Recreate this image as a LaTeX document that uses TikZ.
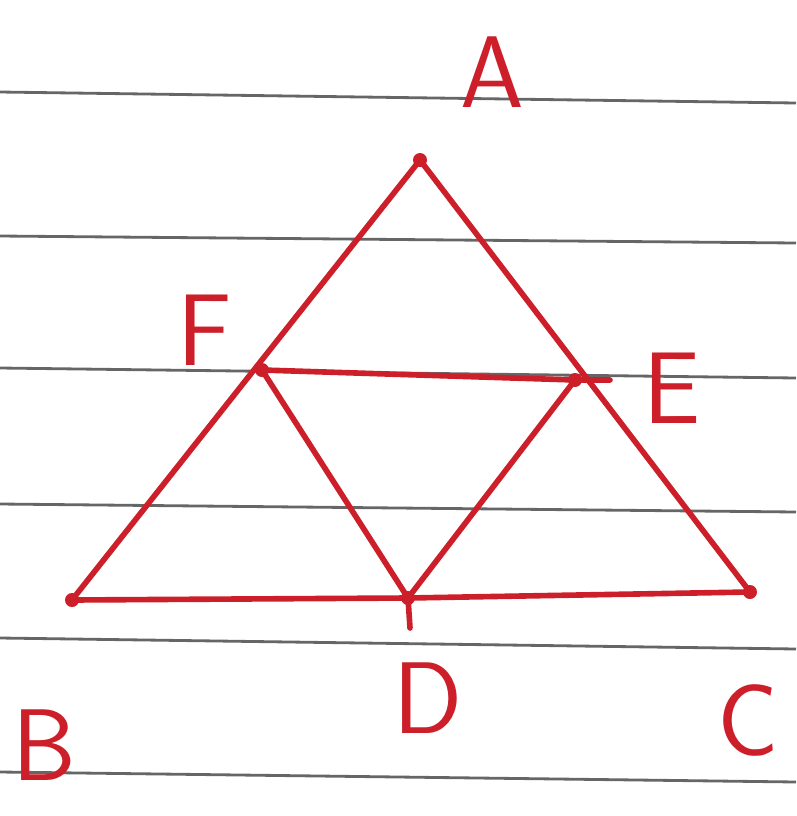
\documentclass[tikz,border=0pt]{standalone}
\usepackage{tikz}
\definecolor{inkred}{rgb}{0.80,0.12,0.16}
\definecolor{ruled}{rgb}{0.40,0.40,0.40}
\tikzset{
  side/.style={inkred, line width=3.2pt, line cap=round},
  rule/.style={ruled, line width=1.6pt},
  lbl/.style={inkred, font=\sffamily\fontsize{58}{58}\selectfont}
}
\begin{document}
\begin{tikzpicture}[x=0.02cm, y=-0.02cm]
  \useasboundingbox (0,0) rectangle (796,816);
  % ruled paper
  \draw[rule] (0,92)--(796,103);
  \draw[rule] (0,236)--(796,243);
  \draw[rule] (0,368)--(796,378);
  \draw[rule] (0,504)--(796,512);
  \draw[rule] (0,638)--(796,649);
  \draw[rule] (0,772)--(796,782);
  % points
  \coordinate (A) at (420,160);
  \coordinate (B) at (72,600);
  \coordinate (C) at (750,592);
  \coordinate (D) at (408,598);
  \coordinate (E) at (575,380);
  \coordinate (F) at (262,370);
  \draw[side] (A)--(B); \draw[side] (A)--(C);
  \draw[side] (B)--(D)--(C);
  \draw[side] (F)--(E) -- ++(35,0);
  \draw[side] (F)--(D)--(E);
  \draw[side] (D) -- ++(2,30);
  \foreach \p in {A,B,C,D,E,F} \fill[inkred] (\p) circle (7);
  % labels
  \node[lbl] (la) at (492,72) {A};
  \node[lbl] (lf) at (205,330) {F};
  \node[lbl] (le) at (672,388) {E};
  \node[lbl] (ld) at (428,698) {D};
  \node[lbl] (lb) at (44,745) {B};
  \node[lbl] (lc) at (748,720) {C};
\end{tikzpicture}
\end{document}
